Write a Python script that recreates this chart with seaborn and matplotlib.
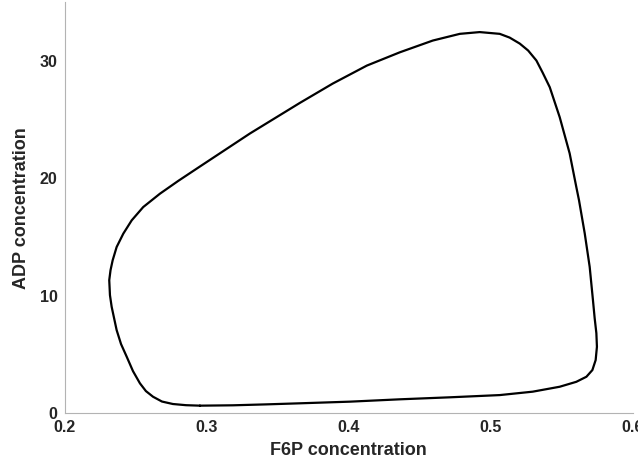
import matplotlib
matplotlib.use("Agg")
import matplotlib.pyplot as plt
import seaborn as sns
import pandas as pd

# limit cycle (F6P, ADP)
f6p = [0.2952, 0.3184, 0.3421, 0.3655, 0.4007, 0.4359, 0.4710, 0.5062, 0.5294,
       0.5484, 0.5601, 0.5672, 0.5714, 0.5737, 0.5746, 0.5742,
       0.5730, 0.5718, 0.5695, 0.5660, 0.5620, 0.5601, 0.5554, 0.5484, 0.5414,
       0.5364, 0.5320, 0.5262, 0.5203, 0.5132, 0.5062, 0.4921, 0.4781, 0.4591,
       0.4359, 0.4127, 0.3887, 0.3655, 0.3304, 0.2952, 0.2800, 0.2671, 0.2553,
       0.2472, 0.2413, 0.2366, 0.2338, 0.2323, 0.2314, 0.2319, 0.2331, 0.2366,
       0.2397, 0.2437, 0.2481, 0.2530, 0.2572, 0.2622, 0.2685, 0.2762, 0.2854,
       0.2952]
adp = [0.65, 0.68, 0.76, 0.85, 0.99, 1.19, 1.36, 1.55, 1.84,
       2.26, 2.68, 3.11, 3.68, 4.53, 5.66, 6.82,
       8.10, 9.63, 12.46, 15.32, 18.12, 19.25, 22.12, 25.20, 27.75,
       28.99, 30.02, 30.87, 31.46, 31.97, 32.29, 32.44, 32.29, 31.72,
       30.72, 29.59, 28.06, 26.41, 23.81, 21.00, 19.78, 18.69, 17.55,
       16.42, 15.29, 14.15, 13.02, 12.18, 11.33, 10.05, 9.06, 7.08,
       5.89, 4.81, 3.59, 2.55, 1.89, 1.41, 1.00, 0.79, 0.69,
       0.65]

x_ticks = [0.2, 0.3, 0.4, 0.5, 0.6]
x_tick_labels = ["0.2", "0.3", "0.4", "0.5", "0.6"]
y_ticks = [0, 10, 20, 30]

df = pd.DataFrame({"F6P": f6p, "ADP": adp})

sns.set_style("white")
plt.rcParams["font.family"] = ["Liberation Sans", "DejaVu Sans"]

fig = plt.figure(figsize=(6.38, 4.66), dpi=100)
ax = fig.add_axes([0.1013, 0.1131, 0.8909, 0.8826])

sns.lineplot(data=df, x="F6P", y="ADP", sort=False, estimator=None,
             color="black", lw=1.6, solid_joinstyle="round", ax=ax)

ax.set_xlim(0.2, 0.6)
ax.set_ylim(0, 35)
ax.set_xticks(x_ticks)
ax.set_xticklabels(x_tick_labels)
ax.set_yticks(y_ticks)
ax.tick_params(axis="both", direction="out", length=4, width=0.8, color="#b3b3b3",
               labelsize=11.5, pad=1)
for lab in ax.get_xticklabels() + ax.get_yticklabels():
    lab.set_fontweight("bold")

for side in ["top", "right"]:
    ax.spines[side].set_visible(False)
for side in ["left", "bottom"]:
    ax.spines[side].set_color("#b3b3b3")
    ax.spines[side].set_linewidth(0.8)

ax.set_xlabel("F6P concentration", fontsize=13, fontweight="bold", labelpad=5)
ax.set_ylabel("ADP concentration", fontsize=13, fontweight="bold", labelpad=7)

fig.savefig("out.png", dpi=100)
